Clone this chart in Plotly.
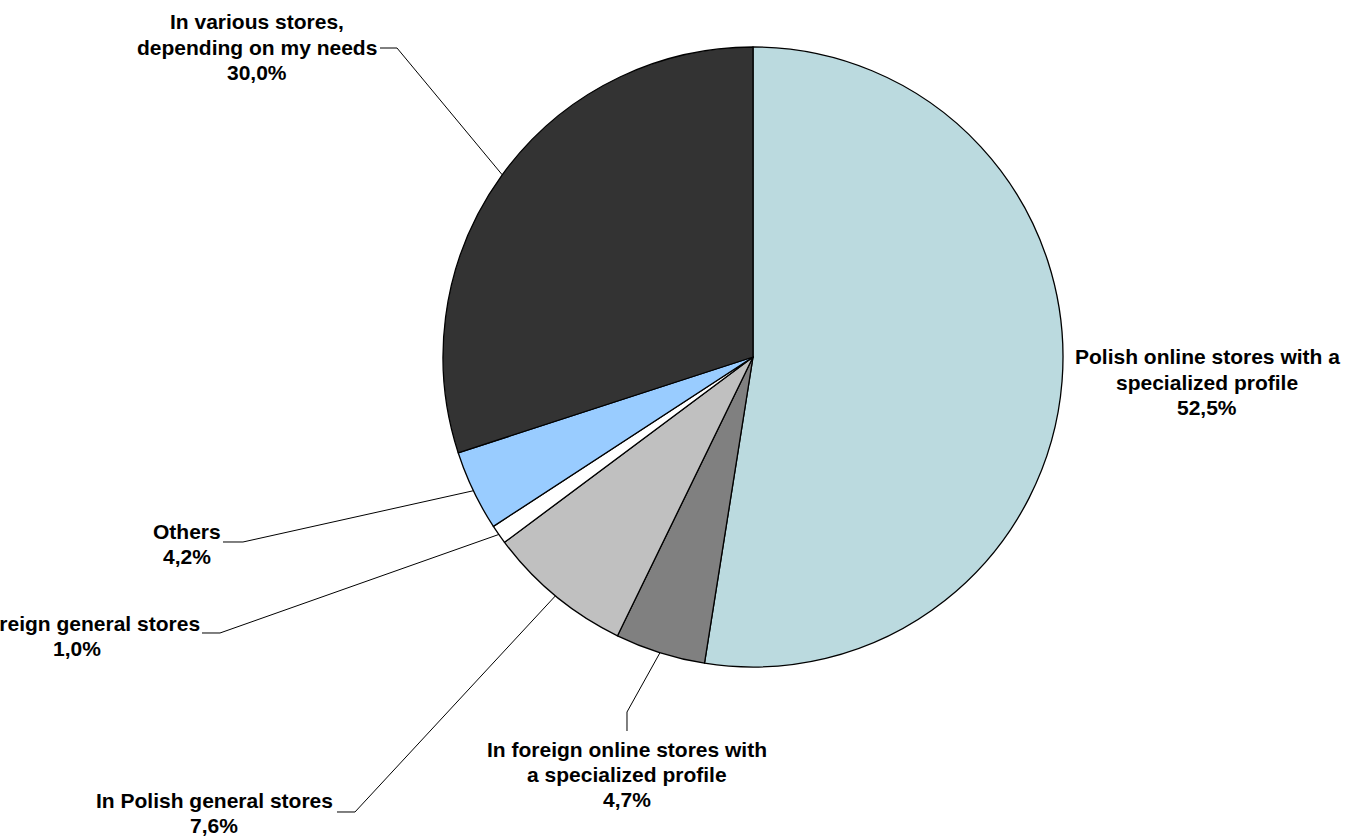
import plotly.graph_objects as go
import math

# Where respondents buy: share of answers
categories = [
    "Polish online stores with a specialized profile",
    "In foreign online stores with a specialized profile",
    "In Polish general stores",
    "In foreign general stores",
    "Others",
    "In various stores, depending on my needs",
]
shares = [52.5, 4.7, 7.6, 1.0, 4.2, 30.0]
label_lines = [
    ["Polish online stores with a", "specialized profile"],
    ["In foreign online stores with", "a specialized profile"],
    ["In Polish general stores"],
    ["In foreign general stores"],
    ["Others"],
    ["In various stores,", "depending on my needs"],
]
colors = ["#BBDADF", "#808080", "#C0C0C0", "#FFFFFF", "#99CCFF", "#333333"]

W, H = 1346, 837
CX, CY, R = 753, 357, 310
FONT_SIZE = 21
LINE_GAP = 25

# label block placement: (center x, first-line y) in pixels
label_pos = [(1207, 357), (627, 749), (214, 800), (77, 623), (187, 531), (257, 22)]
# leader lines: elbow and end point in pixels (None for no leader)
leaders = [None,
           ((627, 712), (627, 731)),
           ((355, 812), (337, 812)),
           ((220, 633), (202, 633)),
           ((243, 542), (223, 542)),
           ((397, 48), (380, 48))]


def px(x):
    return x / W


def py(y):
    return 1 - y / H


fig = go.Figure(go.Pie(
    labels=categories,
    values=shares,
    sort=False,
    direction="clockwise",
    rotation=0,
    marker=dict(colors=colors, line=dict(color="#000000", width=1.3)),
    textinfo="none",
    hoverinfo="label+percent",
    domain=dict(x=[px(CX - R), px(CX + R)], y=[py(CY + R), py(CY - R)]),
))

annotations = []
shapes = []
total = sum(shares)
cum = 0.0
for i, v in enumerate(shares):
    mid = (cum + v / 2) / total * 2 * math.pi
    cum += v
    lx, ly = label_pos[i]
    lines = label_lines[i] + [f"{v:.1f}".replace(".", ",") + "%"]
    for k, line in enumerate(lines):
        annotations.append(dict(
            x=px(lx), y=py(ly + k * LINE_GAP), xref="paper", yref="paper",
            text=line, showarrow=False, xanchor="center", yanchor="middle",
            font=dict(family="Liberation Sans, Arial, sans-serif", size=FONT_SIZE,
                      color="#000000", weight=700),
        ))
    if leaders[i] is not None:
        ex = CX + R * math.sin(mid)
        ey = CY - R * math.cos(mid)
        (bx, by), (tx, ty) = leaders[i]
        path = (f"M {px(ex):.5f},{py(ey):.5f} L {px(bx):.5f},{py(by):.5f} "
                f"L {px(tx):.5f},{py(ty):.5f}")
        shapes.append(dict(type="path", xref="paper", yref="paper", path=path,
                           line=dict(color="#000000", width=1)))

fig.update_layout(
    width=W, height=H,
    margin=dict(l=0, r=0, t=0, b=0),
    paper_bgcolor="#FFFFFF",
    plot_bgcolor="#FFFFFF",
    showlegend=False,
    annotations=annotations,
    shapes=shapes,
)

fig.write_html("out.html")
